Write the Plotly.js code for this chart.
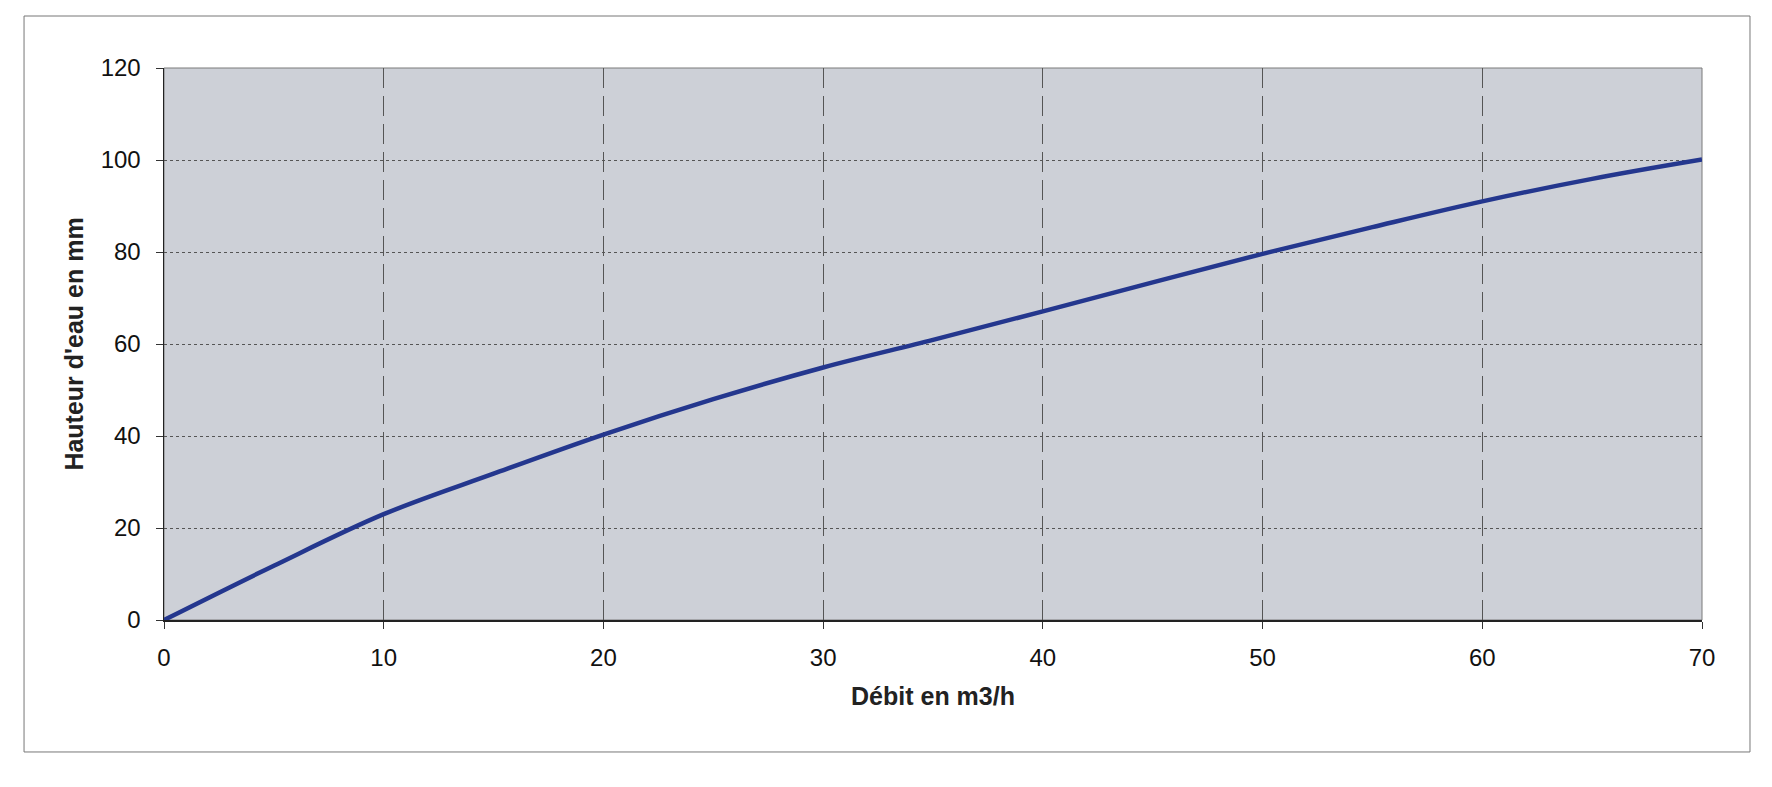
<!DOCTYPE html>
<html>
<head>
<meta charset="utf-8">
<script src="https://cdn.plot.ly/plotly-3.0.1.min.js"></script>
<style>
  html, body { margin: 0; padding: 0; background: #ffffff; }
  #chart { width: 1772px; height: 787px; }
</style>
</head>
<body>
<div id="chart"></div>
<script>
// Débit (m3/h)
const debit = [0, 5, 10, 15, 20, 25, 30, 35, 40, 45, 50, 55, 60, 65, 70];
// Hauteur d'eau (mm)
const hauteur = [0, 11.8, 23.0, 31.8, 40.3, 48.0, 54.9, 60.9, 67.1, 73.4, 79.6, 85.4, 91.0, 95.9, 100.1];

const xTicks = [0, 10, 20, 30, 40, 50, 60, 70];
const yTicks = [0, 20, 40, 60, 80, 100, 120];

const xTitle = "Débit en m3/h";
const yTitle = "Hauteur d'eau en mm";

const fontFamily = "Arial, 'Liberation Sans', sans-serif";

const trace = {
  x: debit,
  y: hauteur,
  type: 'scatter',
  mode: 'lines',
  line: { color: '#24378e', width: 4.5, shape: 'spline', smoothing: 1 },
  hoverinfo: 'x+y',
  showlegend: false
};

const layout = {
  width: 1772,
  height: 787,
  margin: { l: 164, r: 70, t: 68, b: 167 },
  paper_bgcolor: '#ffffff',
  plot_bgcolor: '#cdd0d7',
  showlegend: false,
  font: { family: fontFamily, color: '#111111', size: 24 },
  xaxis: {
    range: [0, 70],
    tickvals: xTicks,
    ticktext: xTicks.map(String),
    showgrid: true,
    gridcolor: '#555555',
    gridwidth: 1,
    griddash: '20px,8px',
    zeroline: false,
    showline: true,
    linecolor: '#222222',
    linewidth: 1.5,
    ticks: 'outside',
    ticklen: 7,
    tickwidth: 1,
    tickcolor: '#333333',
    tickfont: { family: fontFamily, size: 24, color: '#111111' },
    ticklabelstandoff: 9,
    fixedrange: true,
    title: {
      text: '<b>' + xTitle + '</b>',
      font: { family: fontFamily, size: 25, color: '#222222' },
      standoff: 17
    }
  },
  yaxis: {
    range: [0, 120],
    tickvals: yTicks,
    ticktext: yTicks.map(String),
    showgrid: true,
    gridcolor: '#555555',
    gridwidth: 1,
    griddash: '3px,3px',
    zeroline: false,
    showline: true,
    linecolor: '#222222',
    linewidth: 1.5,
    ticks: 'outside',
    ticklen: 7,
    tickwidth: 1,
    tickcolor: '#333333',
    tickfont: { family: fontFamily, size: 24, color: '#111111' },
    ticklabelstandoff: 10,
    fixedrange: true,
    title: {
      text: '<b>' + yTitle + '</b>',
      font: { family: fontFamily, size: 25, color: '#222222' },
      standoff: 10
    }
  },
  shapes: [
    {
      type: 'rect', xref: 'paper', yref: 'paper',
      x0: 0, x1: 1, y0: 0, y1: 1,
      line: { color: '#7a7a7a', width: 1 },
      layer: 'below'
    },
    {
      type: 'rect', xref: 'paper', yref: 'paper',
      x0: -0.0910, x1: 1.0312, y0: -0.2391, y1: 1.0942,
      line: { color: '#777777', width: 1 },
      layer: 'below'
    }
  ]
};

Plotly.newPlot('chart', [trace], layout, { displayModeBar: false, staticPlot: true });
</script>
</body>
</html>
